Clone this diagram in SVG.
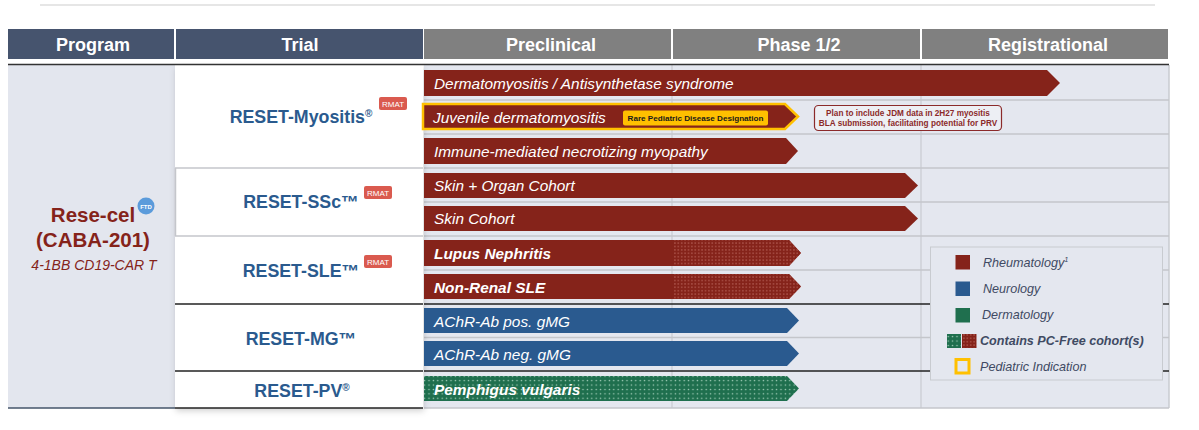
<svg xmlns="http://www.w3.org/2000/svg" width="1199" height="430" viewBox="0 0 1199 430">
<defs>
<style>
.hd{font-family:"Liberation Sans",Arial,sans-serif;font-size:18px;font-weight:bold;fill:#fff;text-anchor:middle}
.tr{font-family:"Liberation Sans",Arial,sans-serif;font-size:17.8px;font-weight:bold;fill:#2A5A8E;text-anchor:middle}
.at{font-family:"Liberation Sans",Arial,sans-serif;font-size:15.4px;font-style:italic;fill:#fff}
.atb{font-family:"Liberation Sans",Arial,sans-serif;font-size:15.4px;font-style:italic;font-weight:bold;fill:#fff}
.lg{font-family:"Liberation Sans",Arial,sans-serif;font-size:12.6px;font-style:italic;fill:#3F4A63}
.rm{font-family:"Liberation Sans",Arial,sans-serif;font-size:8px;fill:#fff;text-anchor:middle}
.co{font-family:"Liberation Sans",Arial,sans-serif;font-size:8.2px;font-weight:bold;fill:#8B2A2A;text-anchor:middle}
.red{fill:#85231A}
.blue{fill:#2A5A8F}
.green{fill:#1F6F4E}
.sep{stroke:#C4C6CB;stroke-width:1.5}
.blk{stroke:#222;stroke-width:1.5}
</style>
<pattern id="dotR" width="3.4" height="3.4" patternUnits="userSpaceOnUse">
<rect width="3.4" height="3.4" fill="#85231A"/>
<circle cx="1.7" cy="1.7" r="0.7" fill="#C4726A"/>
</pattern>
<pattern id="dotG" width="4.4" height="4.4" patternUnits="userSpaceOnUse">
<rect width="4.4" height="4.4" fill="#1F6F4E"/>
<circle cx="2.2" cy="2.2" r="0.75" fill="#A9D3BE"/>
</pattern>
<filter id="sh" x="-10%" y="-10%" width="125%" height="125%">
<feDropShadow dx="1" dy="3" stdDeviation="3" flood-color="#000" flood-opacity="0.18"/>
</filter>
</defs>
<rect width="1199" height="430" fill="#fff"/>
<line x1="40" y1="5" x2="1155" y2="5" stroke="#E6E6E6" stroke-width="2"/>

<g id="header">
<rect x="8" y="29" width="166" height="30" fill="#46546E"/>
<rect x="176" y="29" width="247" height="30" fill="#46546E"/>
<rect x="424" y="29" width="247" height="30" fill="#808080"/>
<rect x="673" y="29" width="247" height="30" fill="#808080"/>
<rect x="922" y="29" width="246" height="30" fill="#808080"/>
<text class="hd" x="93" y="51">Program</text>
<text class="hd" x="300" y="51">Trial</text>
<text class="hd" x="551" y="51">Preclinical</text>
<text class="hd" x="799" y="51">Phase 1/2</text>
<text class="hd" x="1048" y="51">Registrational</text>
</g>

<g id="lanes">
<rect x="424" y="65" width="745" height="343" fill="#E4E7EF"/>
<line x1="672" y1="65" x2="672" y2="408" stroke="#C9CBD0" stroke-width="1.2"/>
<line x1="921" y1="65" x2="921" y2="408" stroke="#C9CBD0" stroke-width="1.2"/>
<line x1="1169" y1="65" x2="1169" y2="408" stroke="#C9CBD0" stroke-width="1.5"/>
<line class="sep" x1="424" y1="100" x2="1169" y2="100"/>
<line class="sep" x1="424" y1="134" x2="1169" y2="134"/>
<line class="sep" x1="424" y1="168" x2="1169" y2="168"/>
<line class="sep" x1="424" y1="202" x2="1169" y2="202"/>
<line class="sep" x1="424" y1="236" x2="1169" y2="236"/>
<line class="sep" x1="424" y1="270" x2="1169" y2="270"/>
<line class="blk" x1="424" y1="304" x2="1169" y2="304"/>
<line class="sep" x1="424" y1="337.5" x2="1169" y2="337.5"/>
<line class="blk" x1="424" y1="371" x2="1169" y2="371"/>
<line class="sep" x1="424" y1="408" x2="1169" y2="408"/>
</g>

<g id="program">
<rect x="8" y="65" width="167" height="343" fill="#E3E6EE"/>
<line x1="8" y1="408" x2="175" y2="408" stroke="#44546A" stroke-width="1.5"/>
<text x="93" y="222" font-family="Liberation Sans,Arial,sans-serif" font-size="20.5" font-weight="bold" fill="#85231A" text-anchor="middle">Rese-cel</text>
<circle cx="146" cy="206" r="8.5" fill="#5B9BDB"/>
<text x="146" y="208.5" font-family="Liberation Sans,Arial,sans-serif" font-size="6" font-weight="bold" fill="#fff" text-anchor="middle">FTD</text>
<text x="93" y="247" font-family="Liberation Sans,Arial,sans-serif" font-size="20.5" font-weight="bold" fill="#85231A" text-anchor="middle">(CABA-201)</text>
<text x="94" y="270" font-family="Liberation Sans,Arial,sans-serif" font-size="14" font-style="italic" fill="#85231A" text-anchor="middle">4-1BB CD19-CAR T</text>
</g>

<g id="trial-column">
<rect x="175" y="65" width="248" height="343" fill="#fff" filter="url(#sh)"/>
<line class="sep" x1="175" y1="168" x2="423" y2="168"/>
<line class="sep" x1="175" y1="236" x2="423" y2="236"/>
<line class="sep" x1="175.5" y1="168" x2="175.5" y2="236"/>
<line class="blk" x1="175" y1="304" x2="423" y2="304"/>
<line class="blk" x1="175" y1="371" x2="423" y2="371"/>
<line class="blk" x1="175" y1="408" x2="423" y2="408"/>
</g>
<line x1="8" y1="64.5" x2="1169" y2="64.5" stroke="#333" stroke-width="1.5"/>

<g id="trial-myositis">
<text class="tr" x="301" y="123">RESET-Myositis<tspan font-size="10" dy="-6">®</tspan></text>
<rect x="379" y="97" width="28" height="13" rx="2" fill="#DA5A4F"/>
<text class="rm" x="393" y="106.5">RMAT</text>
</g>
<g id="trial-ssc">
<text class="tr" x="301" y="208">RESET-SSc™</text>
<rect x="364" y="186" width="28" height="13" rx="2" fill="#DA5A4F"/>
<text class="rm" x="378" y="195.5">RMAT</text>
</g>
<g id="trial-sle">
<text class="tr" x="301" y="277">RESET-SLE™</text>
<rect x="364" y="255" width="28" height="13" rx="2" fill="#DA5A4F"/>
<text class="rm" x="378" y="264.5">RMAT</text>
</g>
<g id="trial-mg">
<text class="tr" x="301" y="345">RESET-MG™</text>
</g>
<g id="trial-pv">
<text class="tr" x="302" y="397">RESET-PV<tspan font-size="10" dy="-6">®</tspan></text>
</g>

<g id="bar-dermatomyositis">
<polygon class="red" points="424,70 1047,70 1060,83 1047,96 424,96"/>
<text class="at" x="434" y="88.5">Dermatomyositis / Antisynthetase syndrome</text>
</g>
<g id="bar-juvenile">
<polygon class="red" points="423,104 785,104 798,116.5 785,129 423,129" stroke="#FFC000" stroke-width="2.5" stroke-linejoin="miter"/>
<text class="at" x="433" y="122.5">Juvenile dermatomyositis</text>
<rect x="623" y="110.5" width="145" height="15" rx="2" fill="#FFC000"/>
<text x="695.5" y="121" font-family="Liberation Sans,Arial,sans-serif" font-size="8.1" font-weight="bold" fill="#1a1a1a" text-anchor="middle">Rare Pediatric Disease Designation</text>
</g>
<g id="callout-jdm">
<rect x="814.5" y="105.5" width="187" height="25" rx="4" fill="#EDEFF4" stroke="#8B2A2A" stroke-width="1.2"/>
<text class="co" x="908" y="116">Plan to include JDM data in 2H27 myositis</text>
<text class="co" x="908" y="126">BLA submission, facilitating potential for PRV</text>
</g>
<g id="bar-imnm">
<polygon class="red" points="424,138 786,138 798,151 786,164 424,164"/>
<text class="at" x="434" y="157">Immune-mediated necrotizing myopathy</text>
</g>
<g id="bar-skin-organ">
<polygon class="red" points="424,173 905,173 918,185.5 905,198 424,198"/>
<text class="at" x="434" y="191">Skin + Organ Cohort</text>
</g>
<g id="bar-skin">
<polygon class="red" points="424,206 905,206 918,218.5 905,231 424,231"/>
<text class="at" x="434" y="224">Skin Cohort</text>
</g>
<g id="bar-lupus">
<polygon class="red" points="424,240 789,240 801,253 789,266 424,266"/>
<polygon fill="url(#dotR)" points="673,240 789,240 801,253 789,266 673,266"/>
<text class="atb" x="434" y="259">Lupus Nephritis</text>
</g>
<g id="bar-nonrenal">
<polygon class="red" points="424,274 789,274 801,286.5 789,299 424,299"/>
<polygon fill="url(#dotR)" points="673,274 789,274 801,286.5 789,299 673,299"/>
<text class="atb" x="434" y="292.5">Non-Renal SLE</text>
</g>
<g id="bar-achr-pos">
<polygon class="blue" points="424,308 787,308 799,320.5 787,333 424,333"/>
<text class="at" x="434" y="326.5">AChR-Ab pos. gMG</text>
</g>
<g id="bar-achr-neg">
<polygon class="blue" points="424,341 787,341 799,353.5 787,366 424,366"/>
<text class="at" x="434" y="359.5">AChR-Ab neg. gMG</text>
</g>
<g id="bar-pemphigus">
<polygon fill="url(#dotG)" points="424,376 787,376 799,388.5 787,401 424,401"/>
<text class="atb" x="434" y="394.5">Pemphigus vulgaris</text>
</g>

<g id="legend">
<rect x="930.5" y="247" width="232" height="133" fill="#E4E7EF" stroke="#C8CBD0" stroke-width="1"/>
<rect x="955.5" y="255" width="14.5" height="14.5" fill="#85231A"/>
<text class="lg" x="983" y="266.5">Rheumatology<tspan font-size="7.5" dy="-5">1</tspan></text>
<rect x="955.5" y="281.5" width="14.5" height="14.5" fill="#2A5A8F"/>
<text class="lg" x="983" y="293">Neurology</text>
<rect x="955.5" y="308" width="14.5" height="14.5" fill="#1F6F4E"/>
<text class="lg" x="982" y="319">Dermatology</text>
<rect x="947" y="334" width="14" height="14" fill="url(#dotG)"/>
<rect x="962" y="334" width="14.5" height="14" fill="url(#dotR)"/>
<text class="lg" x="980" y="345" font-weight="bold">Contains PC-Free cohort(s)</text>
<rect x="956" y="359.5" width="13" height="13.5" fill="none" stroke="#FFC000" stroke-width="3"/>
<text class="lg" x="980" y="370.5">Pediatric Indication</text>
</g>
</svg>
